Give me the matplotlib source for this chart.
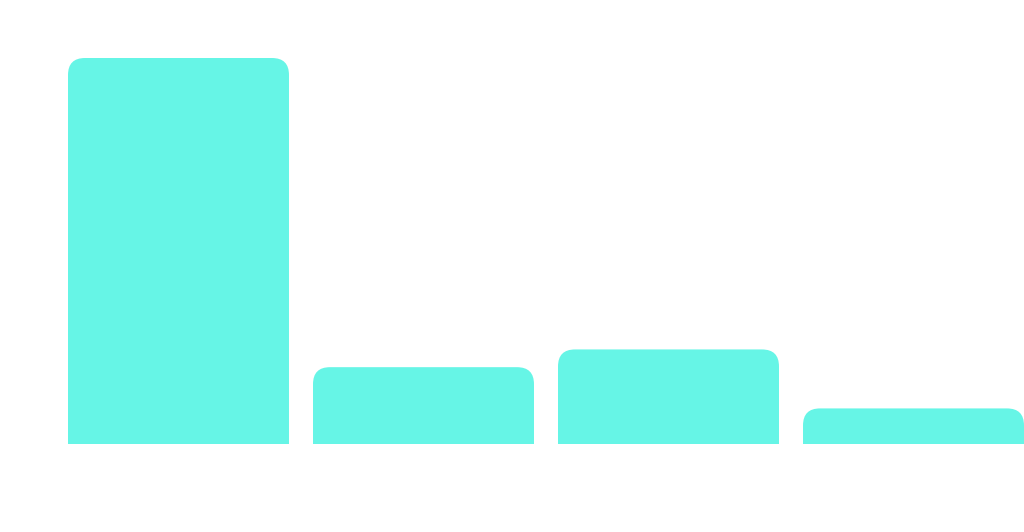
import matplotlib
matplotlib.use("Agg")
import matplotlib.pyplot as plt
from matplotlib.patches import FancyBboxPatch

categories = ["A", "B", "C", "D"]
values = [100, 19.8, 24.4, 9.1]
bar_color = "#66F5E6"

W, H, DPI = 1024, 532, 100
fig = plt.figure(figsize=(W / DPI, H / DPI), dpi=DPI)
ax = fig.add_axes([68 / W, 88.5 / H, (1024 - 68) / W, 385.5 / H])

width = 0.902
ax.set_xlim(-width / 2, len(categories) - 1 + width / 2)
ax.set_ylim(0, max(values))
ax.axis("off")

# px per data unit, for the rounded corners
x0, y0 = ax.transData.transform((0, 0))
x1, y1 = ax.transData.transform((1, 1))
px_x = x1 - x0
px_y = y1 - y0
radius_px = 17
r = radius_px / px_x
aspect = px_x / px_y

for i, v in enumerate(values):
    # extend below 0 so the bottom corners get clipped away
    extra = radius_px * 2 / px_y
    p = FancyBboxPatch((i - width / 2, -extra), width, v + extra,
                       boxstyle=f"round,pad=0,rounding_size={r}",
                       mutation_aspect=aspect,
                       fc=bar_color, ec="none", lw=0)
    ax.add_patch(p)

fig.savefig("out.png", dpi=DPI, facecolor="white")
